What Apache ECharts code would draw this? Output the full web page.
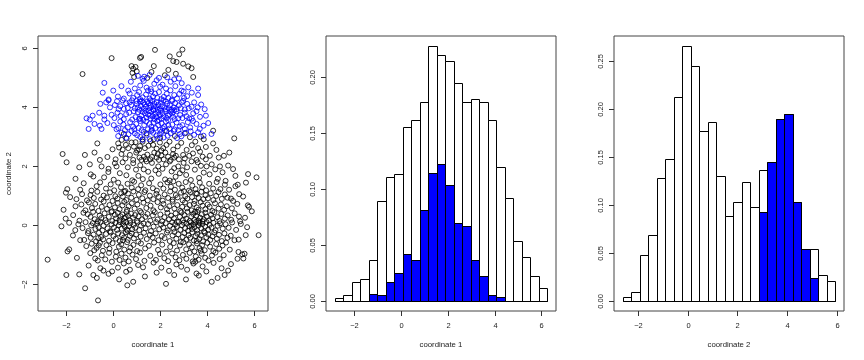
<!DOCTYPE html>
<html>
<head>
<meta charset="utf-8">
<script src="https://cdn.jsdelivr.net/npm/echarts@6/dist/echarts.min.js"></script>
<style>html,body{margin:0;padding:0;background:#fff}#c{width:864px;height:360px}</style>
</head>
<body>
<div id="c"></div>
<script>
// ---------- tick values ----------
const xTicks = [-2, 0, 2, 4, 6];
const scatterYTicks = [-2, 0, 2, 4, 6];
const hist1YTicks = [0, 0.05, 0.10, 0.15, 0.20];
const hist2YTicks = [0, 0.05, 0.10, 0.15, 0.20, 0.25];

// ---------- histogram of coordinate 1 ----------
const breaks1 = [-2.826,-2.463,-2.099,-1.736,-1.373,-1.010,-0.646,-0.283,0.080,0.444,0.807,1.170,1.533,1.897,2.260,2.623,2.987,3.350,3.713,4.076,4.440,4.803,5.166,5.530,5.893,6.256];
const dens1All = [0.0027,0.0051,0.0168,0.0198,0.0363,0.0892,0.1108,0.1135,0.1553,0.1610,0.1775,0.2273,0.2190,0.2138,0.1946,0.1775,0.1802,0.1775,0.1610,0.1195,0.0919,0.0532,0.0387,0.0222,0.0114];
const dens1Blue = [0,0,0,0,0.0057,0.0054,0.0168,0.0252,0.0417,0.0366,0.0808,0.1138,0.1222,0.1030,0.0697,0.0670,0.0363,0.0222,0.0054,0.0030,0,0,0,0,0];

// ---------- histogram of coordinate 2 ----------
const breaks2 = [-2.634,-2.291,-1.947,-1.604,-1.261,-0.917,-0.574,-0.230,0.113,0.456,0.800,1.143,1.486,1.830,2.173,2.516,2.860,3.203,3.546,3.890,4.233,4.576,4.920,5.263,5.606,5.950];
const dens2All = [0.0035,0.0087,0.0476,0.0682,0.1273,0.1476,0.2122,0.2650,0.2448,0.1769,0.1857,0.1301,0.0885,0.1031,0.1241,0.0979,0.1357,0.1448,0.1895,0.1944,0.1031,0.0535,0.0535,0.0269,0.0210];
const dens2Blue = [0,0,0,0,0,0,0,0,0,0,0,0,0,0,0,0,0.0920,0.1448,0.1895,0.1944,0.1031,0.0535,0.0238,0,0];

// ---------- scatter points (coordinate 1, coordinate 2) ----------
const blackPts = [
[-1.31,5.11],[-0.07,5.65],[0.78,5.38],[0.85,5.29],[0.82,5.15],[0.89,5.01],[1.14,5.66],[1.19,5.69],[1.78,5.93],[2.41,5.71],[2.56,5.55],[2.70,5.52],[2.81,5.78],[2.95,5.94],[2.98,5.46],[3.20,5.37],[3.34,5.31],[1.73,5.38],[1.63,5.18],[2.20,5.07],[2.67,5.12],[3.41,5.01],[1.00,5.20],[1.45,4.98],[2.35,5.25],[0.95,5.35],
[0.45,3.08],[0.57,2.92],[1.25,2.90],[1.42,3.10],[1.73,2.90],[2.27,3.18],[2.63,3.01],[3.27,2.97],[3.74,2.99],[3.86,2.90],[4.26,3.19],[5.16,2.93],[0.36,2.88],[2.00,2.95],[3.05,3.10],
[-0.68,2.76],[-0.03,2.56],[0.21,2.76],[0.54,2.71],[0.64,2.60],[0.78,2.79],[0.88,2.65],[1.02,2.52],[1.14,2.67],[1.25,2.82],[1.35,2.60],[1.59,2.84],[1.70,2.71],[1.99,2.79],[2.13,2.60],[2.27,2.71],[2.56,2.55],[3.13,2.54],[3.62,2.60],[4.26,2.76],[4.40,2.54],[0.40,2.55],[0.95,2.80],[1.50,2.68],[1.85,2.58],[2.40,2.82],[2.75,2.66],[2.90,2.78],[3.35,2.70],[3.50,2.82],[3.95,2.64],[1.10,2.55],[0.25,2.62],[2.05,2.52],
[-2.16,2.40],[-1.21,2.37],[-0.57,2.20],[0.71,2.37],[1.31,2.31],[1.75,2.45],[1.85,2.28],[2.34,2.31],[2.67,2.34],[2.98,2.37],[3.24,2.34],[3.81,2.31],[4.12,2.34],[4.72,2.34],[-0.80,2.45],[-0.25,2.30],[0.10,2.22],[0.35,2.40],[0.52,2.25],[0.85,2.20],[0.98,2.45],[1.12,2.28],[1.20,2.20],[1.45,2.38],[1.58,2.22],[1.65,2.30],[1.95,2.20],[2.05,2.35],[2.15,2.22],[2.22,2.45],[2.45,2.20],[2.55,2.40],[2.80,2.22],[3.05,2.25],[3.40,2.42],[3.55,2.20],[3.70,2.48],[3.95,2.22],[4.50,2.28],[4.95,2.45],[1.38,2.22],[1.90,2.40],[2.60,2.28],
[-1.99,2.12],[-0.50,1.98],[0.07,2.09],[0.14,1.98],[0.85,2.09],[0.97,1.87],[1.42,2.15],[1.92,1.98],[2.41,2.15],[2.77,1.98],[3.34,2.15],[3.48,1.87],[3.74,2.00],[3.98,1.98],[4.55,1.98],[4.90,2.01],[5.11,1.89],[-1.00,2.05],[-0.20,1.90],[0.40,2.12],[0.62,1.95],[1.15,2.02],[1.30,1.88],[1.65,2.10],[2.10,1.90],[2.25,2.05],[2.60,1.92],[3.00,2.10],[3.15,1.95],[3.60,2.12],[4.20,2.05],[4.35,1.88],[1.80,1.85],[2.95,1.85],[-1.45,1.95],
[-0.85,1.64],[0.28,1.75],[1.49,1.80],[2.49,1.81],[2.84,1.75],[3.86,1.77],[5.75,1.72],[6.11,1.61],[-0.96,1.71],[-1.61,1.56],[-0.39,1.61],[0.02,1.53],[0.56,1.68],[0.81,1.51],[1.07,1.66],[1.62,1.57],[1.94,1.73],[2.21,1.54],[2.66,1.63],[3.11,1.69],[3.31,1.52],[3.66,1.59],[4.11,1.71],[4.46,1.56],[4.79,1.49],[5.21,1.66],[-0.21,1.79],[1.26,1.55],[2.41,1.50],[4.66,1.78],
[-1.96,1.21],[-1.41,1.19],[-1.26,1.41],[-0.93,1.16],[-0.71,1.31],[-0.56,1.44],[-0.31,1.23],[-0.11,1.37],[0.04,1.17],[0.21,1.43],[0.33,1.27],[0.51,1.15],[0.61,1.39],[0.79,1.26],[0.89,1.46],[1.06,1.21],[1.19,1.34],[1.37,1.17],[1.53,1.41],[1.69,1.24],[1.86,1.16],[2.01,1.37],[2.14,1.23],[2.31,1.44],[2.46,1.29],[2.56,1.47],[2.63,1.19],[2.79,1.39],[2.94,1.26],[3.09,1.45],[3.23,1.16],[3.37,1.33],[3.51,1.21],[3.69,1.43],[3.79,1.27],[3.96,1.17],[4.09,1.39],[4.26,1.23],[4.41,1.45],[4.57,1.21],[4.76,1.36],[4.94,1.19],[5.21,1.31],[5.31,1.36],[5.66,1.43],
[-2.02,1.09],[-1.84,0.94],[-1.57,0.87],[-1.33,1.04],[-1.12,0.83],[-0.97,1.01],[-0.83,0.91],[-0.68,1.12],[-0.52,0.86],[-0.41,0.99],[-0.27,0.93],[-0.14,1.10],[-0.03,0.81],[0.09,0.97],[0.18,0.89],[0.34,1.07],[0.41,0.96],[0.56,0.84],[0.63,1.06],[0.77,0.92],[0.86,1.13],[0.99,0.85],[1.09,1.02],[1.24,0.90],[1.33,1.11],[1.47,0.83],[1.56,0.99],[1.71,0.87],[1.84,1.05],[1.93,0.95],[2.11,0.82],[2.19,1.03],[2.34,0.91],[2.43,1.13],[2.53,0.85],[2.67,1.01],[2.74,0.93],[2.89,1.09],[2.96,0.83],[3.07,0.97],[3.16,0.89],[3.29,1.11],[3.36,0.94],[3.47,0.81],[3.57,1.05],[3.64,0.91],[3.76,1.12],[3.84,0.87],[3.94,1.00],[4.04,0.90],[4.16,1.07],[4.27,0.84],[4.39,0.98],[4.49,1.11],[4.63,0.88],[4.76,1.03],[4.87,0.92],[5.02,0.89],[5.11,0.81],[5.37,1.04],[5.54,0.96],[3.53,1.07],[3.01,1.14],[0.47,1.12],
[-2.12,0.51],[-1.61,0.63],[-1.36,0.69],[-1.19,0.49],[-1.04,0.76],[-0.91,0.57],[-0.77,0.71],[-0.63,0.47],[-0.49,0.61],[-0.41,0.79],[-0.27,0.54],[-0.16,0.67],[-0.06,0.46],[0.07,0.59],[0.19,0.74],[0.27,0.53],[0.39,0.66],[0.47,0.78],[0.59,0.51],[0.66,0.63],[0.79,0.73],[0.91,0.55],[1.03,0.69],[1.14,0.47],[1.29,0.75],[1.41,0.57],[1.59,0.65],[1.71,0.49],[1.89,0.77],[2.03,0.59],[2.14,0.71],[2.29,0.53],[2.39,0.63],[2.53,0.79],[2.61,0.55],[2.73,0.67],[2.86,0.47],[2.94,0.61],[3.06,0.76],[3.14,0.56],[3.26,0.67],[3.34,0.49],[3.44,0.71],[3.56,0.59],[3.63,0.51],[3.73,0.77],[3.81,0.65],[3.93,0.53],[4.03,0.69],[4.11,0.61],[4.23,0.47],[4.34,0.73],[4.49,0.55],[4.59,0.69],[4.73,0.51],[4.84,0.63],[5.06,0.56],[5.29,0.71],[5.74,0.66],[5.79,0.61],[5.91,0.46],
[-2.03,0.21],[-1.71,0.33],[-1.44,0.14],[-1.27,0.41],[-1.09,0.36],[-0.97,0.27],[-0.86,0.44],[-0.79,0.19],[-0.66,0.12],[-0.58,0.31],[-0.51,0.23],[-0.37,0.39],[-0.33,0.16],[-0.19,0.27],[-0.08,0.43],[-0.04,0.13],[0.07,0.34],[0.12,0.22],[0.19,0.41],[0.27,0.17],[0.31,0.29],[0.39,0.35],[0.44,0.12],[0.53,0.26],[0.57,0.44],[0.63,0.31],[0.71,0.15],[0.76,0.38],[0.84,0.24],[0.93,0.33],[1.01,0.13],[1.08,0.29],[1.19,0.42],[1.23,0.19],[1.37,0.27],[1.46,0.37],[1.58,0.14],[1.69,0.32],[1.77,0.43],[1.89,0.18],[2.01,0.35],[2.09,0.12],[2.18,0.26],[2.31,0.41],[2.38,0.19],[2.47,0.31],[2.59,0.22],[2.66,0.39],[2.72,0.11],[2.84,0.27],[2.91,0.42],[2.97,0.16],[3.04,0.33],[3.11,0.21],[3.17,0.44],[3.26,0.13],[3.33,0.28],[3.41,0.37],[3.46,0.17],[3.54,0.31],[3.59,0.43],[3.63,0.14],[3.71,0.24],[3.78,0.36],[3.86,0.19],[3.93,0.41],[3.99,0.28],[4.08,0.15],[4.17,0.34],[4.23,0.22],[4.31,0.43],[4.44,0.26],[4.53,0.13],[4.61,0.37],[4.76,0.21],[4.88,0.32],[5.03,0.17],[5.18,0.39],[5.41,0.12],[5.36,0.28],[5.62,0.24],[3.49,0.44],[3.81,0.12],[0.48,0.23],
[-2.21,-0.05],[-1.88,0.07],[-1.62,-0.18],[-1.49,0.02],[-1.31,-0.11],[-1.18,0.09],[-1.06,-0.21],[-0.94,-0.02],[-0.87,0.06],[-0.76,-0.14],[-0.69,0.04],[-0.63,-0.08],[-0.55,0.10],[-0.46,-0.19],[-0.41,-0.03],[-0.29,0.08],[-0.24,-0.12],[-0.14,-0.22],[-0.07,0.01],[0.03,-0.09],[0.09,0.07],[0.16,-0.17],[0.24,-0.01],[0.29,0.09],[0.36,-0.13],[0.42,0.03],[0.49,-0.06],[0.55,0.10],[0.61,-0.20],[0.67,-0.04],[0.73,0.06],[0.81,-0.15],[0.87,0.00],[0.94,-0.10],[1.03,0.08],[1.11,-0.18],[1.18,-0.02],[1.29,0.05],[1.38,-0.12],[1.49,0.03],[1.61,-0.21],[1.72,-0.06],[1.83,0.09],[1.96,-0.15],[2.04,0.01],[2.13,-0.09],[2.24,0.06],[2.33,-0.19],[2.42,-0.03],[2.51,0.09],[2.57,-0.13],[2.64,0.02],[2.71,-0.07],[2.79,0.10],[2.86,-0.17],[2.93,-0.01],[3.01,0.07],[3.07,-0.11],[3.13,0.04],[3.19,-0.20],[3.24,-0.05],[3.31,0.08],[3.36,-0.14],[3.42,0.01],[3.47,-0.08],[3.53,0.10],[3.58,-0.18],[3.64,-0.02],[3.69,0.06],[3.75,-0.12],[3.81,0.03],[3.87,-0.22],[3.92,-0.06],[3.98,0.09],[4.05,-0.16],[4.11,0.00],[4.19,-0.09],[4.27,0.07],[4.36,-0.19],[4.45,-0.03],[4.56,0.05],[4.67,-0.13],[4.79,0.02],[4.92,-0.10],[5.07,0.08],[5.24,-0.17],[5.44,0.03],[5.71,-0.08],[3.66,0.08],[0.58,-0.16],[3.34,-0.03],
[-1.41,-0.52],[-1.24,-0.51],[-1.72,-0.36],[-1.08,-0.28],[-0.96,-0.44],[-0.84,-0.33],[-0.73,-0.56],[-0.61,-0.27],[-0.52,-0.41],[-0.43,-0.49],[-0.31,-0.31],[-0.18,-0.54],[-0.11,-0.26],[0.01,-0.38],[0.11,-0.47],[0.21,-0.29],[0.28,-0.55],[0.37,-0.35],[0.46,-0.43],[0.54,-0.25],[0.62,-0.51],[0.71,-0.37],[0.79,-0.29],[0.88,-0.46],[0.97,-0.33],[1.07,-0.57],[1.17,-0.40],[1.31,-0.27],[1.43,-0.48],[1.56,-0.34],[1.68,-0.43],[1.81,-0.29],[1.93,-0.52],[2.07,-0.38],[2.19,-0.45],[2.29,-0.26],[2.41,-0.55],[2.53,-0.36],[2.61,-0.24],[2.69,-0.47],[2.77,-0.32],[2.88,-0.58],[2.96,-0.41],[3.03,-0.28],[3.12,-0.50],[3.21,-0.35],[3.28,-0.44],[3.37,-0.25],[3.44,-0.53],[3.51,-0.38],[3.59,-0.30],[3.67,-0.48],[3.74,-0.36],[3.83,-0.56],[3.91,-0.27],[3.97,-0.42],[4.06,-0.33],[4.14,-0.51],[4.23,-0.39],[4.31,-0.26],[4.42,-0.47],[4.51,-0.34],[4.63,-0.55],[4.74,-0.29],[4.87,-0.44],[5.01,-0.37],[5.17,-0.52],[5.35,-0.50],[5.65,-0.35],[6.20,-0.35],[3.56,-0.55],[0.41,-0.52],[-0.64,-0.45],
[-1.95,-0.90],[-1.88,-0.83],[-1.15,-0.72],[-0.92,-0.64],[-0.81,-0.86],[-0.71,-0.78],[-0.57,-0.61],[-0.44,-0.88],[-0.29,-0.69],[-0.16,-0.81],[-0.03,-0.62],[0.13,-0.91],[0.24,-0.74],[0.34,-0.66],[0.47,-0.84],[0.59,-0.59],[0.73,-0.77],[0.86,-0.68],[1.02,-0.89],[1.18,-0.63],[1.36,-0.80],[1.52,-0.71],[1.74,-0.60],[1.91,-0.85],[2.09,-0.67],[2.26,-0.91],[2.43,-0.75],[2.58,-0.62],[2.72,-0.87],[2.84,-0.70],[2.99,-0.59],[3.11,-0.83],[3.23,-0.66],[3.35,-0.76],[3.46,-0.90],[3.57,-0.63],[3.68,-0.79],[3.79,-0.69],[3.90,-0.86],[4.01,-0.61],[4.13,-0.74],[4.27,-0.89],[4.39,-0.65],[4.52,-0.81],[4.66,-0.70],[4.81,-0.60],[4.97,-0.84],[5.34,-0.92],[3.73,-0.88],[0.69,-0.90],[-0.62,-0.70],
[-2.80,-1.18],[-1.55,-1.12],[-0.98,-0.96],[-0.77,-1.14],[-0.66,-1.21],[-0.49,-1.03],[-0.34,-1.17],[-0.18,-0.95],[-0.06,-1.25],[0.11,-1.08],[0.27,-1.19],[0.35,-0.98],[0.52,-1.11],[0.66,-1.24],[0.82,-1.01],[0.97,-1.16],[1.14,-0.94],[1.33,-1.22],[1.58,-1.05],[1.82,-1.19],[1.99,-0.99],[2.18,-1.13],[2.34,-1.23],[2.51,-0.97],[2.66,-1.10],[2.82,-1.20],[2.97,-1.02],[3.12,-1.15],[3.26,-0.95],[3.39,-1.24],[3.52,-1.07],[3.64,-1.18],[3.77,-0.98],[3.92,-1.12],[4.06,-1.21],[4.21,-1.04],[4.36,-0.94],[4.54,-1.16],[4.71,-1.03],[5.30,-1.15],[5.50,-1.00],[5.60,-0.98],[5.55,-1.14],[3.50,-1.25],
[-1.05,-1.38],[-0.55,-1.47],[-0.42,-1.55],[0.20,-1.45],[-0.05,-1.58],[0.45,-1.31],[0.71,-1.52],[1.06,-1.36],[1.27,-1.44],[1.72,-1.28],[2.05,-1.45],[2.38,-1.56],[2.69,-1.34],[3.15,-1.52],[3.42,-1.31],[3.81,-1.41],[3.97,-1.58],[4.28,-1.29],[4.62,-1.47],[4.90,-1.55],[5.02,-1.33],[2.90,-1.42],[0.55,-1.59],
[-2.00,-1.70],[-1.45,-1.68],[-0.85,-1.70],[-0.70,-1.80],[0.25,-1.85],[0.85,-1.93],[1.35,-1.75],[2.60,-1.70],[3.55,-1.65],[3.65,-1.72],[4.45,-1.80],[4.20,-1.93],[4.75,-1.70],[1.85,-1.62],[-0.20,-1.66],[3.10,-1.85],
[-1.20,-2.15],[0.60,-2.05],[2.25,-2.00],[-0.65,-2.56]
];

const bluePts = [
[0.21,3.01],[0.92,3.10],[1.70,3.12],[4.19,3.08],[0.55,2.95],[1.15,2.98],[1.42,3.05],[1.88,2.92],[2.05,3.15],[2.32,3.02],[2.58,3.18],[2.85,3.08],[3.10,3.12],[3.45,3.05],[0.78,3.18],[1.30,3.15],[1.55,2.90],[2.15,2.96],[2.72,2.94],[3.30,3.17],[0.35,3.12],[1.02,3.04],[1.98,3.07],[2.45,3.10],[3.62,3.14],[1.62,3.18],[2.90,3.00],[1.25,2.88],[0.65,3.07],[2.20,3.19],[3.85,3.02],[1.85,3.03],
[-1.05,3.25],[-0.57,3.36],[-0.50,3.25],[0.14,3.24],[0.43,3.40],[0.50,3.21],[0.85,3.33],[1.21,3.21],[1.63,3.33],[2.06,3.44],[2.39,3.26],[2.84,3.33],[3.55,3.42],[3.69,3.25],[-0.25,3.45],[0.02,3.38],[0.30,3.50],[0.62,3.30],[0.72,3.48],[0.98,3.42],[1.08,3.28],[1.32,3.38],[1.40,3.50],[1.48,3.24],[1.72,3.46],[1.80,3.28],[1.92,3.38],[2.00,3.22],[2.18,3.33],[2.25,3.50],[2.52,3.40],[2.62,3.23],[2.70,3.47],[2.95,3.38],[3.05,3.25],[3.18,3.48],[3.28,3.30],[3.40,3.52],[3.85,3.36],[4.05,3.45],[1.15,3.52],[1.55,3.42],[1.88,3.52],[2.12,3.27],[2.35,3.37],[0.22,3.28],[-0.80,3.42],[0.90,3.24],[1.65,3.22],[2.78,3.21],
[-1.14,3.61],[-1.00,3.57],[-0.88,3.70],[-0.38,3.57],[-0.38,3.70],[-0.07,3.73],[0.31,3.69],[0.68,3.80],[0.81,3.57],[1.14,3.60],[1.52,3.86],[1.59,3.61],[1.99,3.72],[2.34,3.55],[2.70,3.85],[2.77,3.61],[3.24,3.61],[3.41,3.78],[3.95,3.70],[0.05,3.62],[0.18,3.80],[0.45,3.58],[0.55,3.75],[0.95,3.65],[1.05,3.82],[1.20,3.70],[1.28,3.56],[1.35,3.78],[1.42,3.64],[1.48,3.74],[1.62,3.84],[1.68,3.68],[1.75,3.58],[1.80,3.76],[1.86,3.64],[1.92,3.82],[2.05,3.60],[2.10,3.78],[2.15,3.68],[2.22,3.86],[2.28,3.62],[2.40,3.74],[2.46,3.84],[2.55,3.66],[2.62,3.58],[2.85,3.72],[2.95,3.62],[3.05,3.80],[3.12,3.68],[3.35,3.60],[3.55,3.85],[3.70,3.66],[1.72,3.88],[1.38,3.87],[1.95,3.55],[2.52,3.78],[0.88,3.85],[1.10,3.59],[1.56,3.70],[2.02,3.87],[2.33,3.70],[1.25,3.83],[1.82,3.67],[2.60,3.88],[-0.60,3.80],
[-0.14,3.98],[0.07,4.06],[0.16,4.19],[0.23,3.92],[0.40,4.22],[0.45,3.93],[0.77,4.06],[0.80,4.22],[1.14,4.18],[1.45,4.18],[1.93,4.06],[2.24,3.92],[2.51,4.20],[2.70,3.92],[2.98,4.20],[3.05,3.91],[3.34,4.00],[-0.55,4.10],[-0.30,4.15],[0.30,4.02],[0.55,4.12],[0.62,3.96],[0.92,3.95],[1.00,4.10],[1.05,3.98],[1.18,4.02],[1.22,4.20],[1.30,3.94],[1.35,4.08],[1.40,4.00],[1.50,4.12],[1.55,3.96],[1.60,4.05],[1.66,4.20],[1.70,3.92],[1.76,4.10],[1.82,4.00],[1.86,4.16],[1.98,3.94],[2.03,4.14],[2.08,4.02],[2.14,4.22],[2.19,3.98],[2.30,4.10],[2.36,3.95],[2.42,4.05],[2.58,3.98],[2.64,4.12],[2.80,4.05],[2.88,3.95],[3.15,4.10],[3.22,3.95],[3.45,4.15],[3.60,3.98],[3.75,4.08],[1.28,4.14],[1.58,4.22],[1.90,3.90],[2.25,4.18],[0.98,4.20],[0.70,4.15],[2.48,3.90],[1.12,3.90],[1.72,4.02],[2.92,4.15],[3.90,3.92],[-0.20,4.22],
[-0.20,4.25],[-0.45,4.48],[0.00,4.55],[0.64,4.55],[1.02,4.40],[1.78,4.45],[2.16,4.34],[2.44,4.56],[2.91,4.55],[3.15,4.36],[0.20,4.35],[0.45,4.28],[0.85,4.30],[1.10,4.50],[1.25,4.32],[1.40,4.42],[1.55,4.28],[1.62,4.52],[1.70,4.35],[1.88,4.30],[1.95,4.50],[2.05,4.26],[2.28,4.44],[2.35,4.30],[2.60,4.40],[2.72,4.28],[2.82,4.44],[3.02,4.30],[3.35,4.48],[3.62,4.40],[1.15,4.26],[1.48,4.55],[2.50,4.24],[0.70,4.45],[3.00,4.52],
[-0.38,4.81],[0.92,4.62],[1.42,4.65],[1.85,4.90],[2.10,4.75],[3.62,4.62],[0.35,4.70],[0.75,4.85],[1.15,4.72],[1.30,4.88],[1.60,4.60],[1.75,4.78],[2.25,4.62],[2.45,4.85],[2.65,4.70],[2.92,4.80],[3.20,4.66],[2.00,4.68],
[1.25,4.95],[1.32,5.02],[2.60,4.93],[1.05,5.05],[1.95,4.98],[2.30,5.00],[1.55,5.08],[2.80,4.96]
];

// ---------- build ----------
const FONT = 'Liberation Sans';
const TXT = '#222';
const chart = echarts.init(document.getElementById('c'), null, {renderer: 'canvas'});

function fmtNum(v) { return (v < 0 ? '\u2212' : '') + Math.abs(v); }
function fmt2(v) { return v.toFixed(2); }

function mkX(idx, min, max, name) {
  return {
    type: 'value', gridIndex: idx, min: min, max: max,
    name: name, nameLocation: 'middle', nameGap: 30,
    nameTextStyle: {fontFamily: FONT, fontSize: 7.8, color: TXT},
    splitLine: {show: false}, axisLine: {show: false},
    axisTick: {show: false}, axisLabel: {show: false}
  };
}
function mkY(idx, min, max, name) {
  return {
    type: 'value', gridIndex: idx, min: min, max: max,
    name: name || '', nameLocation: 'middle', nameGap: 25, nameRotate: 90,
    nameTextStyle: {fontFamily: FONT, fontSize: 7.8, color: TXT},
    splitLine: {show: false}, axisLine: {show: false},
    axisTick: {show: false}, axisLabel: {show: false}
  };
}

// axis ticks and labels drawn through the axes' own scales
function xTickSeries(idx, ticks, yMin, fmt) {
  return {
    type: 'custom', xAxisIndex: idx, yAxisIndex: idx, silent: true, clip: false,
    data: ticks.map(v => [v, yMin]),
    renderItem: function (params, api) {
      const v = api.value(0);
      const p = api.coord([v, api.value(1)]);
      const x = Math.round(p[0]) + 0.5, y = Math.round(p[1]);
      return {type: 'group', children: [
        {type: 'line', shape: {x1: x, y1: y, x2: x, y2: y + 5}, style: {stroke: '#333', lineWidth: 1}},
        {type: 'text', x: x, y: y + 11,
          style: {text: fmt(v), align: 'center', verticalAlign: 'top', fontFamily: FONT, fontSize: 7.5, fill: TXT}}
      ]};
    }
  };
}
function yTickSeries(idx, ticks, xMin, fmt) {
  return {
    type: 'custom', xAxisIndex: idx, yAxisIndex: idx, silent: true, clip: false,
    data: ticks.map(v => [xMin, v]),
    renderItem: function (params, api) {
      const v = api.value(1);
      const p = api.coord([api.value(0), v]);
      const x = Math.round(p[0]), y = Math.round(p[1]) + 0.5;
      return {type: 'group', children: [
        {type: 'line', shape: {x1: x, y1: y, x2: x - 5, y2: y}, style: {stroke: '#333', lineWidth: 1}},
        {type: 'text', x: x - 9, y: y, rotation: Math.PI / 2,
          style: {text: fmt(v), align: 'center', verticalAlign: 'bottom', fontFamily: FONT, fontSize: 7.5, fill: TXT}}
      ]};
    }
  };
}

function histSeries(idx, breaks, dens, fill) {
  const data = dens.map((d, i) => [breaks[i], breaks[i + 1], d]);
  return {
    type: 'custom', xAxisIndex: idx, yAxisIndex: idx, data: data, silent: true,
    renderItem: function (params, api) {
      const p0 = api.coord([api.value(0), api.value(2)]);
      const p1 = api.coord([api.value(1), 0]);
      const x0 = Math.round(p0[0]) + 0.5, x1 = Math.round(p1[0]) + 0.5;
      const y0 = Math.round(p0[1]) + 0.5, y1 = Math.round(p1[1]) + 0.5;
      return {type: 'rect', shape: {x: x0, y: y0, width: x1 - x0, height: y1 - y0},
        style: {fill: fill, stroke: '#000', lineWidth: 1}};
    }
  };
}

const ranges = {
  x: [[-3.21, 6.60], [-3.189, 6.619], [-2.977, 6.293]],
  y: [[-2.92, 6.40], [-0.0091, 0.2364], [-0.0106, 0.2756]]
};

const gridBase = {top: 36, height: 275, width: 230, show: true, borderColor: '#444', borderWidth: 1, backgroundColor: 'transparent'};

chart.setOption({
  animation: false,
  backgroundColor: '#fff',
  grid: [
    Object.assign({left: 38}, gridBase),
    Object.assign({left: 326}, gridBase),
    Object.assign({left: 614}, gridBase)
  ],
  xAxis: [
    mkX(0, ranges.x[0][0], ranges.x[0][1], 'coordinate 1'),
    mkX(1, ranges.x[1][0], ranges.x[1][1], 'coordinate 1'),
    mkX(2, ranges.x[2][0], ranges.x[2][1], 'coordinate 2')
  ],
  yAxis: [
    mkY(0, ranges.y[0][0], ranges.y[0][1], 'coordinate 2'),
    mkY(1, ranges.y[1][0], ranges.y[1][1]),
    mkY(2, ranges.y[2][0], ranges.y[2][1])
  ],
  series: [
    {type: 'scatter', xAxisIndex: 0, yAxisIndex: 0, data: blackPts, symbol: 'circle', symbolSize: 5, silent: true,
      itemStyle: {color: 'rgba(0,0,0,0)', borderColor: '#000', borderWidth: 1}},
    {type: 'scatter', xAxisIndex: 0, yAxisIndex: 0, data: bluePts, symbol: 'circle', symbolSize: 5, silent: true,
      itemStyle: {color: 'rgba(0,0,0,0)', borderColor: '#0000ff', borderWidth: 1}},
    histSeries(1, breaks1, dens1All, '#ffffff'),
    histSeries(1, breaks1, dens1Blue, '#0000ff'),
    histSeries(2, breaks2, dens2All, '#ffffff'),
    histSeries(2, breaks2, dens2Blue, '#0000ff'),
    xTickSeries(0, xTicks, ranges.y[0][0], fmtNum),
    yTickSeries(0, scatterYTicks, ranges.x[0][0], fmtNum),
    xTickSeries(1, xTicks, ranges.y[1][0], fmtNum),
    yTickSeries(1, hist1YTicks, ranges.x[1][0], fmt2),
    xTickSeries(2, xTicks, ranges.y[2][0], fmtNum),
    yTickSeries(2, hist2YTicks, ranges.x[2][0], fmt2)
  ]
});
</script>
</body>
</html>
